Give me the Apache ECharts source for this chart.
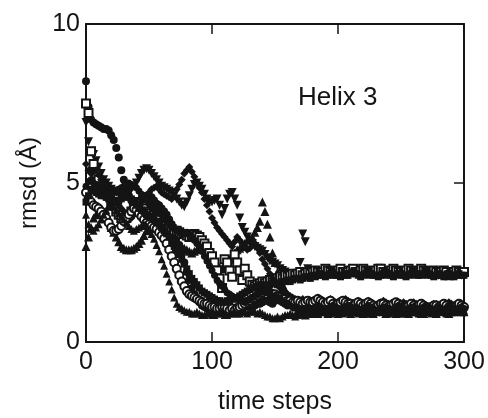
<!DOCTYPE html>
<html>
<head>
<meta charset="utf-8">
<script src="https://cdn.jsdelivr.net/npm/echarts@6/dist/echarts.min.js"></script>
<style>html,body{margin:0;padding:0;background:#fff;}#c{width:488px;height:418px;}</style>
</head>
<body>
<div id="c"></div>
<script>
const timeSteps = [0,2,4,6,8,10,12,14,16,18,
 20,22,24,26,28,30,32,34,36,38,
 40,42,44,46,48,50,52,54,56,58,
 60,62,64,66,68,70,72,74,76,78,
 80,82,84,86,88,90,92,94,96,98,
 100,102,104,106,108,110,112,114,116,118,
 120,122,124,126,128,130,132,134,136,138,
 140,142,144,146,148,150,152,154,156,158,
 160,162,164,166,168,170,172,174,176,178,
 180,182,184,186,188,190,192,194,196,198,
 200,202,204,206,208,210,212,214,216,218,
 220,222,224,226,228,230,232,234,236,238,
 240,242,244,246,248,250,252,254,256,258,
 260,262,264,266,268,270,272,274,276,278,
 280,282,284,286,288,290,292,294,296,298,
 300];

const xTicks = [0,100,200,300];
const yTicks = [0,5,10];

const run1 = [8.2,7.4,7.0,6.9,6.85,6.8,6.75,6.7,6.7,6.65,
 6.5,6.35,6.1,5.8,5.4,5.1,4.8,4.6,4.45,4.35,
 4.3,4.4,4.5,4.55,4.6,4.6,4.55,4.45,4.35,4.3,
 4.2,4.1,4.0,3.85,3.7,3.5,3.3,3.05,2.8,2.5,
 2.2,1.95,1.7,1.5,1.35,1.25,1.15,1.1,1.05,1.0,
 1.0,0.95,0.95,1.0,1.05,0.95,0.95,1.0,1.0,1.05,
 1.1,1.05,1.05,1.1,1.15,1.1,1.1,1.15,1.2,1.2,
 1.25,1.3,1.3,1.25,1.2,1.3,1.35,1.3,1.25,1.2,
 1.15,1.2,1.3,1.25,1.2,1.15,1.1,1.15,1.25,1.2,
 1.2,1.15,1.1,1.15,1.2,1.2,1.15,1.1,1.05,1.1,
 1.15,1.1,1.1,1.15,1.2,1.15,1.1,1.05,1.05,1.1,
 1.15,1.1,1.1,1.05,1.0,1.05,1.1,1.1,1.15,1.1,
 1.05,1.05,1.1,1.05,1.0,1.0,1.05,1.1,1.1,1.05,
 1.0,1.0,1.05,1.1,1.1,1.05,1.0,1.0,0.95,1.0,
 1.05,1.05,1.0,1.0,1.1,1.1,1.05,1.05,1.0,1.0,
 1.05];

const run2 = [3.0,3.3,3.6,3.9,4.0,4.1,4.1,4.05,4.0,3.9,
 3.6,3.45,3.3,3.15,3.0,2.95,2.9,2.9,2.9,2.95,
 3.0,3.1,3.2,3.35,3.5,3.6,3.7,3.8,3.9,3.85,
 3.8,3.7,3.6,3.5,3.4,3.3,3.2,3.1,3.0,2.95,
 2.9,2.85,2.8,2.85,2.9,2.95,3.0,2.9,2.8,2.7,
 2.6,2.5,2.4,2.35,2.3,2.4,2.5,2.6,2.7,2.8,
 2.9,2.95,3.0,3.1,3.2,3.25,3.3,3.45,3.6,3.8,
 4.4,4.1,3.7,3.3,2.8,2.5,2.2,2.0,1.8,1.65,
 1.5,1.35,1.2,1.1,1.0,0.95,0.9,0.85,0.95,0.9,
 1.0,0.95,0.9,0.95,1.0,0.95,0.9,0.95,1.0,0.95,
 0.9,0.95,1.0,1.0,0.95,0.9,0.95,1.05,1.0,0.95,
 0.9,0.95,1.0,0.95,0.9,0.95,1.0,1.0,0.95,0.9,
 0.95,1.0,0.95,0.9,0.95,1.0,1.0,0.95,0.9,0.95,
 0.95,1.0,0.95,0.9,0.9,0.95,1.0,1.0,0.95,0.9,
 0.95,1.0,1.0,0.95,0.9,0.95,0.95,1.0,1.0,0.95,
 0.95];

const run3 = [6.9,6.3,6.0,5.9,5.7,5.5,5.3,5.1,5.0,4.9,
 4.8,4.75,4.7,4.65,4.6,4.6,4.65,4.7,4.8,4.9,
 5.0,5.15,5.3,5.4,5.45,5.4,5.3,5.2,5.1,5.0,
 4.9,4.85,4.8,4.75,4.7,4.6,4.5,4.4,4.3,4.25,
 4.4,4.6,4.8,4.95,5.0,4.9,4.8,4.65,4.5,4.4,
 4.4,4.45,4.5,4.3,4.0,4.2,4.5,4.65,4.7,4.5,
 4.3,3.9,3.6,3.45,3.3,3.2,3.1,3.0,2.95,2.9,
 2.85,2.75,2.65,2.55,2.5,2.45,2.4,2.3,2.25,2.2,
 2.15,2.1,2.05,2.0,2.05,2.5,3.4,3.15,2.3,2.15,
 2.1,2.15,2.2,2.15,2.1,2.2,2.25,2.2,2.15,2.2,
 2.2,2.15,2.1,2.2,2.25,2.2,2.15,2.2,2.2,2.25,
 2.2,2.15,2.2,2.25,2.2,2.15,2.1,2.15,2.2,2.2,
 2.25,2.2,2.15,2.2,2.25,2.2,2.2,2.15,2.1,2.15,
 2.2,2.2,2.25,2.2,2.15,2.15,2.2,2.25,2.2,2.15,
 2.1,2.15,2.2,2.2,2.15,2.1,2.15,2.2,2.15,2.1,
 2.15];

const run4 = [7.5,7.2,6.0,5.6,5.3,5.1,4.9,4.8,4.7,4.6,
 4.4,4.3,4.1,4.0,3.9,3.85,3.9,4.0,4.1,4.25,
 4.4,4.4,4.35,4.3,4.2,4.1,4.05,4.0,3.9,3.85,
 3.75,3.7,3.65,3.6,3.55,3.5,3.5,3.45,3.4,3.4,
 3.35,3.3,3.35,3.4,3.35,3.3,3.2,3.1,3.0,2.8,
 2.7,2.5,2.25,2.0,1.7,2.6,2.5,2.25,2.05,2.75,
 2.5,2.25,1.95,2.3,2.1,1.9,1.8,1.75,1.8,1.85,
 1.9,1.85,1.9,1.95,2.0,1.95,2.0,2.05,2.0,2.1,
 2.05,2.1,2.15,2.1,2.15,2.2,2.1,2.15,2.2,2.15,
 2.2,2.25,2.2,2.15,2.2,2.3,2.25,2.2,2.15,2.2,
 2.25,2.3,2.2,2.15,2.2,2.25,2.3,2.2,2.2,2.25,
 2.3,2.25,2.2,2.15,2.2,2.25,2.3,2.3,2.2,2.15,
 2.2,2.25,2.3,2.25,2.2,2.2,2.15,2.25,2.3,2.25,
 2.2,2.15,2.2,2.3,2.25,2.2,2.15,2.2,2.25,2.2,
 2.15,2.2,2.25,2.2,2.1,2.15,2.2,2.25,2.2,2.15,
 2.2];

const run5 = [5.6,5.4,5.3,5.35,5.4,5.25,5.1,5.0,4.9,4.8,
 4.6,4.5,4.4,4.3,4.2,4.1,4.0,3.95,3.9,4.0,
 4.1,4.25,4.4,4.5,4.6,4.7,4.8,4.85,4.9,4.8,
 4.7,4.65,4.6,4.55,4.5,4.6,4.8,4.95,5.1,5.3,
 5.4,5.5,5.35,5.2,5.0,4.85,4.7,4.5,4.3,4.1,
 3.9,3.75,3.6,3.5,3.4,3.3,3.2,3.1,3.0,3.15,
 3.3,3.2,3.1,3.0,2.9,2.95,3.05,3.1,2.95,2.8,
 2.6,2.45,2.3,2.15,2.0,1.9,1.8,1.7,1.6,1.55,
 1.5,1.45,1.4,1.35,1.3,1.3,1.35,1.3,1.25,1.3,
 1.3,1.35,1.4,1.35,1.3,1.25,1.3,1.35,1.3,1.25,
 1.2,1.25,1.3,1.35,1.3,1.25,1.2,1.25,1.3,1.25,
 1.2,1.25,1.3,1.25,1.2,1.15,1.2,1.25,1.3,1.25,
 1.2,1.2,1.25,1.2,1.15,1.2,1.25,1.2,1.15,1.2,
 1.25,1.2,1.15,1.2,1.2,1.15,1.1,1.15,1.2,1.2,
 1.15,1.1,1.15,1.2,1.25,1.2,1.15,1.15,1.2,1.2,
 1.15];

const run6 = [4.7,4.5,4.4,4.3,4.25,4.2,4.1,4.0,3.9,3.75,
 3.6,3.5,3.5,3.55,3.65,3.8,3.9,4.0,4.1,4.2,
 4.15,4.05,3.95,3.85,3.75,3.7,3.65,3.6,3.55,3.45,
 3.35,3.25,3.1,2.9,2.7,2.5,2.3,2.1,1.9,1.75,
 1.6,1.5,1.45,1.4,1.35,1.3,1.25,1.2,1.2,1.15,
 1.1,1.1,1.05,1.05,1.1,1.1,1.05,1.0,1.05,1.0,
 1.05,1.1,1.15,1.2,1.25,1.3,1.35,1.4,1.45,1.5,
 1.55,1.6,1.6,1.55,1.5,1.5,1.45,1.4,1.35,1.35,
 1.3,1.3,1.25,1.25,1.3,1.25,1.2,1.25,1.3,1.25,
 1.25,1.3,1.35,1.3,1.25,1.2,1.25,1.3,1.2,1.15,
 1.2,1.25,1.3,1.25,1.2,1.2,1.15,1.2,1.25,1.2,
 1.15,1.2,1.25,1.2,1.15,1.1,1.15,1.2,1.2,1.15,
 1.1,1.15,1.2,1.25,1.2,1.15,1.1,1.1,1.15,1.2,
 1.15,1.1,1.15,1.2,1.15,1.1,1.05,1.1,1.15,1.15,
 1.1,1.15,1.2,1.15,1.1,1.05,1.1,1.15,1.2,1.15,
 1.1];

const run7 = [4.4,4.6,4.8,4.75,4.7,4.65,4.6,4.6,4.55,4.5,
 4.45,4.4,4.4,4.45,4.5,4.55,4.6,4.55,4.5,4.4,
 4.3,4.2,4.15,4.1,4.0,3.95,3.9,3.85,3.75,3.7,
 3.6,3.5,3.4,3.3,3.15,3.0,2.9,2.75,2.6,2.45,
 2.3,2.15,2.0,1.9,1.8,1.7,1.6,1.55,1.5,1.45,
 1.4,1.35,1.3,1.3,1.25,1.25,1.3,1.3,1.35,1.35,
 1.4,1.45,1.5,1.55,1.6,1.65,1.7,1.7,1.75,1.8,
 1.8,1.75,1.75,1.8,1.85,1.85,1.8,1.85,1.9,1.9,
 1.95,1.9,1.95,2.0,2.0,1.95,2.0,2.05,2.05,2.0,
 2.1,2.05,2.1,2.15,2.1,2.05,2.1,2.15,2.2,2.1,
 2.1,2.05,2.1,2.15,2.1,2.15,2.2,2.15,2.1,2.05,
 2.1,2.15,2.2,2.15,2.1,2.1,2.05,2.1,2.15,2.2,
 2.15,2.1,2.05,2.1,2.15,2.15,2.1,2.05,2.1,2.15,
 2.2,2.15,2.1,2.1,2.15,2.2,2.15,2.1,2.05,2.1,
 2.15,2.1,2.05,2.1,2.15,2.1,2.05,2.1,2.15,2.1,
 2.1];

const run8 = [4.0,3.7,3.55,3.5,3.6,3.7,3.85,4.0,4.15,4.25,
 4.3,4.25,4.15,4.05,3.95,3.85,3.75,3.65,3.55,3.5,
 3.55,3.6,3.65,3.7,3.65,3.55,3.4,3.25,3.05,2.85,
 2.6,2.4,2.15,1.9,1.65,1.4,1.2,1.1,1.05,1.0,
 0.95,0.95,0.9,0.9,0.95,0.9,0.85,0.85,0.9,0.9,
 0.85,0.85,0.9,0.95,0.9,0.85,0.85,0.9,0.9,0.95,
 0.9,0.9,0.95,0.95,0.9,0.95,1.0,0.95,0.9,0.95,
 0.9,0.85,0.8,0.8,0.75,0.75,0.8,0.75,0.8,0.85,
 0.85,0.9,0.85,0.8,0.85,0.9,0.9,0.95,0.9,0.9,
 0.95,0.9,0.9,0.95,1.0,0.95,0.9,0.9,0.95,1.0,
 1.0,0.95,0.9,0.95,1.0,1.05,1.0,0.95,0.9,0.95,
 1.0,0.95,0.9,0.9,0.95,1.0,1.05,1.0,0.95,0.95,
 0.9,0.95,1.0,1.0,0.95,0.9,0.9,0.95,1.0,1.05,
 1.0,0.95,0.9,0.95,1.0,1.0,0.95,0.9,0.95,1.0,
 1.05,1.0,0.95,0.9,0.95,1.0,1.0,0.95,0.95,1.0,
 1.0];

const run9 = [4.9,5.05,5.1,5.0,4.95,4.9,4.85,4.8,4.75,4.7,
 4.65,4.7,4.75,4.8,4.85,4.9,4.95,5.0,4.95,4.9,
 4.85,4.75,4.65,4.55,4.45,4.35,4.25,4.15,4.1,4.05,
 4.0,3.9,3.8,3.7,3.6,3.55,3.5,3.45,3.4,3.4,
 3.45,3.4,3.3,3.2,3.1,3.0,2.85,2.7,2.55,2.4,
 2.25,2.1,1.95,1.85,1.75,1.65,1.55,1.5,1.45,1.4,
 1.35,1.3,1.3,1.25,1.3,1.35,1.4,1.45,1.5,1.55,
 1.6,1.6,1.55,1.5,1.45,1.45,1.4,1.35,1.3,1.25,
 1.2,1.15,1.1,1.1,1.05,1.05,1.0,1.05,1.1,1.05,
 1.05,1.1,1.15,1.1,1.05,1.0,1.05,1.1,1.15,1.1,
 1.05,1.0,1.05,1.1,1.15,1.1,1.05,1.1,1.05,1.0,
 1.05,1.1,1.15,1.1,1.05,1.0,1.0,1.05,1.1,1.1,
 1.05,1.0,1.05,1.1,1.15,1.1,1.05,1.0,1.05,1.1,
 1.1,1.05,1.0,1.05,1.1,1.15,1.1,1.05,1.0,1.05,
 1.1,1.05,1.0,1.05,1.1,1.1,1.05,1.0,1.05,1.1,
 1.05];

const runs = [run1, run2, run3, run4, run5, run6, run7, run8, run9];
const ink = '#141414';
const font = "'Liberation Sans', Arial, Helvetica, sans-serif";
const markers = [
  {symbol:'circle', size:8, rotate:0},
  {symbol:'triangle', size:9, rotate:0},
  {symbol:'triangle', size:9, rotate:180},
  {symbol:'emptyRect', size:8, rotate:0},
  {symbol:'diamond', size:8, rotate:0},
  {symbol:'emptyCircle', size:8, rotate:0},
  {symbol:'rect', size:7, rotate:0},
  {symbol:'triangle', size:8, rotate:0},
  {symbol:'circle', size:7, rotate:0}
];

const series = runs.map((vals, k) => ({
  type:'scatter',
  data: timeSteps.map((t, i) => [t, vals[i]]),
  symbol: markers[k].symbol,
  symbolSize: markers[k].size,
  symbolRotate: markers[k].rotate,
  itemStyle: {color: ink, opacity: 1, borderColor: ink, borderWidth: markers[k].symbol.indexOf('empty') === 0 ? 1.6 : 0},
  silent: true,
  animation: false
}));

const axisLine = {show:true, onZero:false, lineStyle:{color:ink, width:2}};
const axisTick = {show:true, inside:true, length:10, lineStyle:{color:ink, width:1.5}};

const chart = echarts.init(document.getElementById('c'), null, {renderer:'canvas'});
chart.setOption({
  animation:false,
  backgroundColor:'#fff',
  grid:{left:86, right:24, top:24, bottom:76, containLabel:false, outerBoundsMode:'none'},
  xAxis:[
    {type:'value', position:'bottom', min:xTicks[0], max:xTicks[xTicks.length-1], interval:xTicks[1]-xTicks[0],
     axisLine, axisTick, splitLine:{show:false},
     axisLabel:{fontSize:25, color:ink, margin:8, fontFamily:font},
     name:'time steps', nameLocation:'middle', nameGap:48,
     nameTextStyle:{fontSize:25, color:ink, fontFamily:font}},
    {type:'value', position:'top', min:xTicks[0], max:xTicks[xTicks.length-1], interval:xTicks[1]-xTicks[0],
     axisLine, axisTick, splitLine:{show:false}, axisLabel:{show:false}}
  ],
  yAxis:[
    {type:'value', position:'left', min:yTicks[0], max:yTicks[yTicks.length-1], interval:yTicks[1]-yTicks[0],
     axisLine, axisTick, splitLine:{show:false},
     axisLabel:{fontSize:25, color:ink, margin:6, fontFamily:font},
     name:'rmsd (Å)', nameLocation:'middle', nameGap:44,
     nameTextStyle:{fontSize:24, color:ink, fontFamily:font}},
    {type:'value', position:'right', min:yTicks[0], max:yTicks[yTicks.length-1], interval:yTicks[1]-yTicks[0],
     axisLine, axisTick, splitLine:{show:false}, axisLabel:{show:false}}
  ],
  graphic:[{type:'text', left:298, top:85, style:{text:'Helix 3', font:'26px ' + font, fill:ink}}],
  series
});
</script>
</body>
</html>
